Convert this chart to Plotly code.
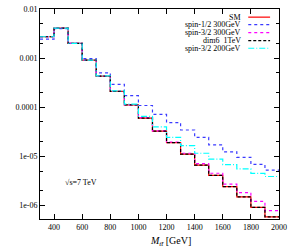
import plotly.graph_objects as go

# bin edges (GeV)
bin_edges = [300, 400, 500, 600, 700, 800, 900, 1000, 1100, 1200, 1300,
             1400, 1500, 1600, 1700, 1800, 1900, 2000]

sm = [2.72e-3, 4.07e-3, 2.0e-3, 9.1e-4, 4.3e-4, 2.09e-4, 1.11e-4, 6.0e-5,
      3.24e-5, 1.9e-5, 1.1e-5, 6.6e-6, 4.07e-6, 2.4e-6, 1.48e-6, 9.1e-7, 5.8e-7]
spin12_300 = [2.43e-3, 4.0e-3, 2.0e-3, 9.8e-4, 5.0e-4, 2.92e-4, 1.71e-4, 1.08e-4,
              7.1e-5, 4.85e-5, 3.42e-5, 2.43e-5, 1.71e-5, 1.23e-5, 9.5e-6, 6.8e-6, 5.2e-6]
spin32_300 = [2.72e-3, 4.07e-3, 2.0e-3, 9.1e-4, 4.3e-4, 2.1e-4, 1.11e-4, 6.1e-5,
              3.3e-5, 1.95e-5, 1.15e-5, 7.1e-6, 4.5e-6, 2.7e-6, 1.82e-6, 1.2e-6, 7.8e-7]
dim6_1tev = [2.72e-3, 4.07e-3, 2.0e-3, 9.1e-4, 4.3e-4, 2.09e-4, 1.11e-4, 6.0e-5,
             3.24e-5, 1.9e-5, 1.1e-5, 6.6e-6, 4.07e-6, 2.4e-6, 1.48e-6, 9.1e-7, 5.8e-7]
spin32_200 = [2.72e-3, 4.07e-3, 2.0e-3, 9.1e-4, 4.35e-4, 2.15e-4, 1.15e-4, 6.46e-5,
              3.98e-5, 2.43e-5, 1.64e-5, 1.15e-5, 8.7e-6, 6.76e-6, 5.5e-6, 4.47e-6, 3.86e-6]

y_tickvals = [1e-6, 1e-5, 1e-4, 1e-3, 1e-2]
y_ticktext = ["1e-06", "1e-05", "0.0001", "0.001", "0.01"]
x_tickvals = [400, 600, 800, 1000, 1200, 1400, 1600, 1800, 2000]

series = [
    ("SM", sm, "#ff0000", "solid"),
    ("spin-1/2 300GeV", spin12_300, "#3a3aff", "dot"),
    ("spin-3/2 300GeV", spin32_300, "#ff00ff", "dot"),
    ("dim6  1TeV", dim6_1tev, "#000000", "3px,2px"),
    ("spin-3/2 200GeV", spin32_200, "#00ffff", "6px,2px,1px,2px"),
]

FONT = "Liberation Serif"
fig = go.Figure()
for name, vals, col, dash in series:
    fig.add_trace(go.Scatter(
        x=bin_edges, y=list(vals) + [vals[-1]], mode="lines",
        line=dict(shape="hv", color=col, dash=dash, width=1.2),
        name=name, showlegend=False, hoverinfo="skip"))

# custom gnuplot-style legend (text right-aligned, sample on right)
L, R, T, B = 40, 281, 5, 219
W, H = R - L, B - T
row_px = [13.3, 21.0, 29.0, 37.3, 45.0]
for (name, vals, col, dash), ry in zip(series, row_px):
    yp = 1 - (ry - T) / H
    fig.add_annotation(xref="paper", yref="paper", x=(244 - L) / W, y=yp,
                       text=name, showarrow=False, xanchor="right", yanchor="middle",
                       font=dict(family=FONT, size=8, color="#000"), borderpad=0)
    fig.add_shape(type="line", xref="paper", yref="paper",
                  x0=(250 - L) / W, x1=(272 - L) / W, y0=yp, y1=yp,
                  line=dict(color=col, dash=dash, width=1.2))

fig.add_annotation(xref="paper", yref="paper", x=(81 - L) / W, y=1 - (182 - T) / H,
                   text="√s=7 TeV", showarrow=False, xanchor="center", yanchor="middle",
                   font=dict(family=FONT, size=8, color="#000"), borderpad=0)

fig.add_annotation(xref="paper", yref="paper", x=(172 - L) / W, y=1 - (242 - T) / H,
                   text="<i>M</i><sub><i>tt̄</i></sub> [GeV]", showarrow=False,
                   xanchor="center", yanchor="middle",
                   font=dict(family=FONT, size=10, color="#000"), borderpad=0)

axis_common = dict(showline=True, linecolor="#000", linewidth=1, mirror="allticks",
                   ticks="inside", tickcolor="#000", showgrid=False, zeroline=False,
                   tickfont=dict(family=FONT, size=8, color="#000"))
fig.update_xaxes(range=[300, 2000], tickvals=x_tickvals, ticklen=5, **axis_common)
minor_vals = []
for dec in [1e-7, 1e-6, 1e-5, 1e-4, 1e-3]:
    minor_vals += [2 * dec, 5 * dec]
fig.update_yaxes(type="log", range=[-6.279, -2], tickvals=y_tickvals, ticktext=y_ticktext,
                 ticklen=5, minor=dict(tickvals=minor_vals, ticks="inside", ticklen=3,
                                       tickcolor="#000"),
                 **axis_common)
fig.update_layout(width=292, height=248, margin=dict(l=L, r=292 - R, t=T, b=248 - B),
                  plot_bgcolor="white", paper_bgcolor="white")
fig.write_html("out.html", config={"displayModeBar": False},
               post_script="document.body.style.margin='0';document.body.style.overflow='hidden';")
